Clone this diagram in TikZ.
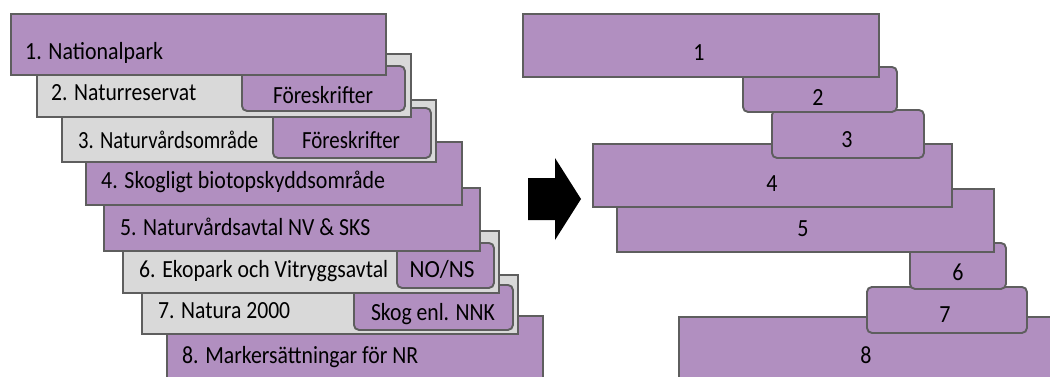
\documentclass[tikz,border=0pt]{standalone}
\usepackage{fontspec}
\usepackage{graphicx}
\setmainfont{Carlito}
\definecolor{pfill}{HTML}{B18FC0}
\definecolor{gfill}{HTML}{D9D9D9}
\definecolor{edge}{HTML}{5E5E5E}
\newcommand\fitlab[2]{\resizebox{#1pt}{1.12\height}{#2}}
\newcommand\tallt[1]{\scalebox{1}[1.12]{#1}}
\tikzset{
  boxbase/.style={draw=edge, line width=1.9pt, inner sep=0pt, anchor=north west},
  pbox/.style={boxbase, fill=pfill},
  gbox/.style={boxbase, fill=gfill},
  tab/.style={boxbase, fill=pfill, rounded corners=5pt},
  lbl/.style={font=\fontsize{22}{24}\selectfont, text=black, inner sep=0pt, anchor=base west},
  clbl/.style={font=\fontsize{22}{24}\selectfont, text=black, inner sep=0pt, anchor=base},
}
\begin{document}
\begin{tikzpicture}[x=1pt,y=-1pt]
\clip (0,0) rectangle (1050,376);
\fill[white] (0,0) rectangle (1050,376);
% ---------- left stack (drawn bottom to top) ----------
\node[pbox, minimum width=376pt, minimum height=80pt] (b8) at (166,315) {};
\node[lbl] (t8) at (182,363) {\fitlab{236}{8. Markersättningar för NR}};
\node[gbox, minimum width=376pt, minimum height=59pt] (b7) at (141,274) {};
\node[tab, minimum width=159pt, minimum height=45pt] (s7) at (353,284) {};
\node[lbl] (t7) at (158,318) {\fitlab{132}{7. Natura 2000}};
\node[clbl] (ts7) at (433,320) {\fitlab{124}{Skog enl. NNK}};
\node[gbox, minimum width=376pt, minimum height=62pt] (b6) at (122,230) {};
\node[tab, minimum width=97pt, minimum height=45pt] (n6) at (396,242) {};
\node[lbl] (t6) at (139,277) {\fitlab{249}{6. Ekopark och Vitryggsavtal}};
\node[clbl] (tn6) at (442,277) {\fitlab{65}{NO/NS}};
\node[pbox, minimum width=376pt, minimum height=63pt] (b5) at (103,187) {};
\node[lbl] (t5) at (120,235) {\fitlab{250}{5. Naturvårdsavtal NV \& SKS}};
\node[pbox, minimum width=376pt, minimum height=63pt] (b4) at (85,141) {};
\node[lbl] (t4) at (101,188) {\fitlab{284}{4. Skogligt biotopskyddsområde}};
\node[gbox, minimum width=374pt, minimum height=62pt] (b3) at (61,99) {};
\node[tab, minimum width=158pt, minimum height=50pt] (f3) at (272,107) {};
\node[lbl] (t3) at (78,148) {\fitlab{180}{3. Naturvårdsområde}};
\node[clbl] (tf3) at (351,148) {\fitlab{98}{Föreskrifter}};
\node[gbox, minimum width=374pt, minimum height=63pt] (b2) at (36,53) {};
\node[tab, minimum width=163pt, minimum height=45pt] (f2) at (241,65) {};
\node[lbl] (t2) at (51,100) {\fitlab{145}{2. Naturreservat}};
\node[clbl] (tf2) at (323,103) {\fitlab{100}{Föreskrifter}};
\node[pbox, minimum width=375pt, minimum height=61pt] (b1) at (10,13) {};
\node[lbl] (t1) at (25,59) {\fitlab{138}{1. Nationalpark}};
% ---------- arrow ----------
\fill[black] (528,178) -- (555,178) -- (555,158) -- (581,199) -- (555,240) -- (555,220) -- (528,220) -- cycle;
% ---------- right stack (drawn bottom to top) ----------
\node[pbox, minimum width=392pt, minimum height=84pt] (r8) at (678,316) {};
\node[clbl] (q8) at (866,363) {\tallt{8}};
\node[tab, minimum width=160pt, minimum height=46pt] (r7) at (866,286) {};
\node[clbl] (q7) at (945,322) {\tallt{7}};
\node[tab, minimum width=96pt, minimum height=46pt] (r6) at (909,242) {};
\node[clbl] (q6) at (958,280) {\tallt{6}};
\node[pbox, minimum width=377pt, minimum height=63pt] (r5) at (616,188) {};
\node[clbl] (q5) at (803,236) {\tallt{5}};
\node[pbox, minimum width=359pt, minimum height=63pt] (r4) at (592,143) {};
\node[clbl] (q4) at (772,191) {\tallt{4}};
\node[tab, minimum width=152pt, minimum height=48pt] (r3) at (771,109) {};
\node[clbl] (q3) at (847,147) {\tallt{3}};
\node[tab, minimum width=154pt, minimum height=45pt] (r2) at (742,66) {};
\node[clbl] (q2) at (818,105) {\tallt{2}};
\node[pbox, minimum width=356pt, minimum height=63pt] (r1) at (522,13) {};
\node[clbl] (q1) at (699,60) {\tallt{1}};
\end{tikzpicture}
\end{document}
